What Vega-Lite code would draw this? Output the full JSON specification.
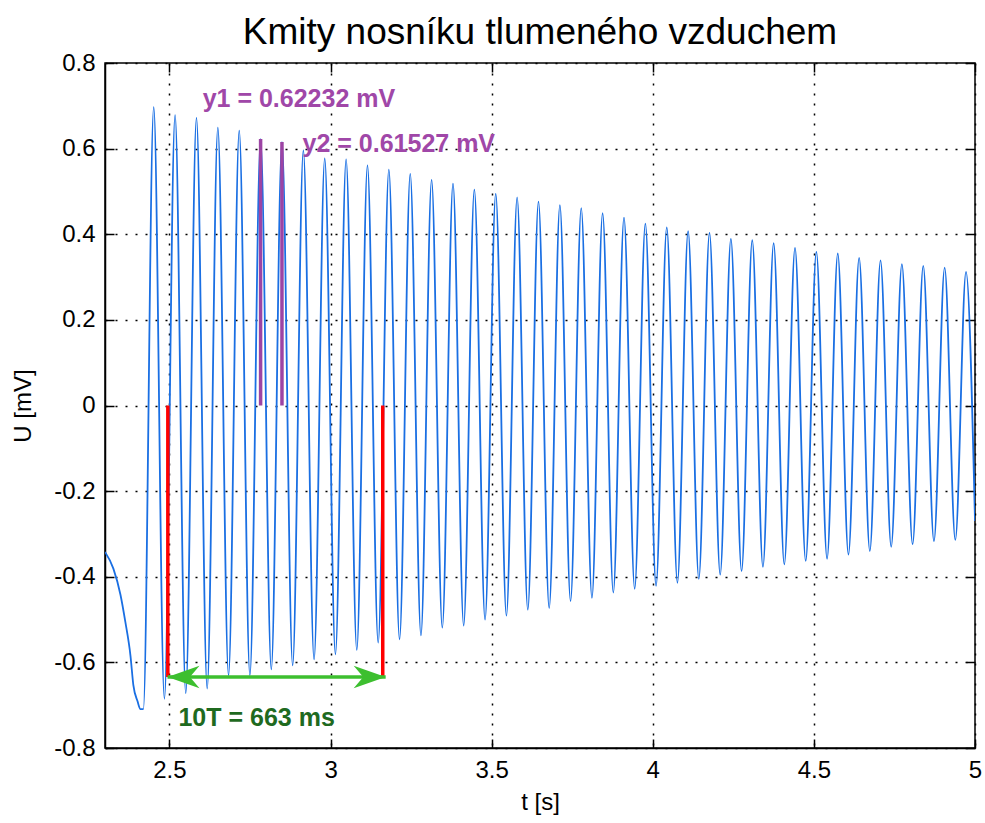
{
  "$schema": "https://vega.github.io/schema/vega-lite/v6.json",
  "width": 870,
  "height": 685,
  "autosize": {"type": "none"},
  "padding": {"left": 105, "top": 63, "right": 10, "bottom": 75},
  "background": "white",
  "title": {"text": "Kmity nosníku tlumeného vzduchem", "font": "Liberation Sans", "fontSize": 37, "fontWeight": "normal", "color": "black", "anchor": "middle", "offset": -1},
  "config": {
    "view": {"stroke": "black", "strokeWidth": 1.5},
    "axis": {
      "domainColor": "black", "domainWidth": 1.5,
      "tickColor": "black", "tickWidth": 1.5, "tickSize": -9,
      "labelColor": "black", "labelFont": "Liberation Sans", "labelFontSize": 24, "labelPadding": 19, "labelFlush": false,
      "titleColor": "black", "titleFont": "Liberation Sans", "titleFontSize": 24, "titleFontWeight": "normal",
      "gridColor": "black", "gridDash": [2, 8], "gridOpacity": 1, "gridWidth": 1.5
    }
  },
  "datasets": {
    "signal": [
      {"t": 2.300, "u": -0.342}, {"t": 2.326, "u": -0.381}, {"t": 2.348, "u": -0.442}, {"t": 2.363, "u": -0.505},
      {"t": 2.379, "u": -0.584}, {"t": 2.388, "u": -0.653}, {"t": 2.401, "u": -0.691}, {"t": 2.410, "u": -0.709},
      {"t": 2.419, "u": -0.709},
      {"t": 2.4512, "u": 0.697}, {"t": 2.4844, "u": -0.685},
      {"t": 2.5175, "u": 0.678}, {"t": 2.5507, "u": -0.672},
      {"t": 2.5839, "u": 0.672}, {"t": 2.6171, "u": -0.661},
      {"t": 2.6502, "u": 0.649}, {"t": 2.6834, "u": -0.630},
      {"t": 2.7166, "u": 0.642}, {"t": 2.7497, "u": -0.630},
      {"t": 2.7829, "u": 0.62232}, {"t": 2.8161, "u": -0.616},
      {"t": 2.8492, "u": 0.61527}, {"t": 2.8824, "u": -0.607},
      {"t": 2.9156, "u": 0.596}, {"t": 2.9488, "u": -0.593},
      {"t": 2.9819, "u": 0.577}, {"t": 3.0151, "u": -0.581},
      {"t": 3.0483, "u": 0.575}, {"t": 3.0814, "u": -0.571},
      {"t": 3.1146, "u": 0.561}, {"t": 3.1478, "u": -0.554},
      {"t": 3.1809, "u": 0.551}, {"t": 3.2141, "u": -0.546},
      {"t": 3.2473, "u": 0.541}, {"t": 3.2805, "u": -0.537},
      {"t": 3.3136, "u": 0.527}, {"t": 3.3468, "u": -0.519},
      {"t": 3.3800, "u": 0.518}, {"t": 3.4131, "u": -0.514},
      {"t": 3.4463, "u": 0.504}, {"t": 3.4795, "u": -0.500},
      {"t": 3.5126, "u": 0.495}, {"t": 3.5458, "u": -0.491},
      {"t": 3.5790, "u": 0.486}, {"t": 3.6121, "u": -0.477},
      {"t": 3.6453, "u": 0.476}, {"t": 3.6785, "u": -0.473},
      {"t": 3.7117, "u": 0.468}, {"t": 3.7448, "u": -0.457},
      {"t": 3.7780, "u": 0.461}, {"t": 3.8112, "u": -0.449},
      {"t": 3.8443, "u": 0.449}, {"t": 3.8775, "u": -0.437},
      {"t": 3.9107, "u": 0.439}, {"t": 3.9438, "u": -0.428},
      {"t": 3.9770, "u": 0.425}, {"t": 4.0102, "u": -0.421},
      {"t": 4.0434, "u": 0.416}, {"t": 4.0765, "u": -0.414},
      {"t": 4.1097, "u": 0.407}, {"t": 4.1429, "u": -0.405},
      {"t": 4.1760, "u": 0.403}, {"t": 4.2092, "u": -0.395},
      {"t": 4.2424, "u": 0.389}, {"t": 4.2756, "u": -0.387},
      {"t": 4.3087, "u": 0.386}, {"t": 4.3419, "u": -0.377},
      {"t": 4.3751, "u": 0.379}, {"t": 4.4082, "u": -0.371},
      {"t": 4.4414, "u": 0.368}, {"t": 4.4746, "u": -0.363},
      {"t": 4.5077, "u": 0.359}, {"t": 4.5409, "u": -0.358},
      {"t": 4.5741, "u": 0.355}, {"t": 4.6072, "u": -0.348},
      {"t": 4.6404, "u": 0.345}, {"t": 4.6736, "u": -0.340},
      {"t": 4.7068, "u": 0.339}, {"t": 4.7399, "u": -0.330},
      {"t": 4.7731, "u": 0.330}, {"t": 4.8063, "u": -0.324},
      {"t": 4.8394, "u": 0.326}, {"t": 4.8726, "u": -0.317},
      {"t": 4.9058, "u": 0.322}, {"t": 4.9389, "u": -0.314},
      {"t": 4.9721, "u": 0.312}, {"t": 5.0, "u": -0.27}
    ],
    "peaks": [
      {"t": 2.7829, "u": 0.62232},
      {"t": 2.8492, "u": 0.61527}
    ],
    "period": [
      {"t": 2.495, "u": -0.634},
      {"t": 3.162, "u": -0.634}
    ],
    "arrow": [
      {"t1": 2.494, "t2": 3.171, "u": -0.634}
    ],
    "purpleText": [
      {"t": 2.603, "u": 0.716, "label": "y1 = 0.62232 mV"},
      {"t": 2.913, "u": 0.611, "label": "y2 = 0.61527 mV"}
    ],
    "greenText": [
      {"t": 2.528, "u": -0.731, "label": "10T = 663 ms"}
    ]
  },
  "resolve": {"axis": {"x": "independent", "y": "independent"}},
  "layer": [
    {
      "data": {"name": "signal"},
      "mark": {"type": "line", "interpolate": "monotone", "color": "#1a6fe3", "strokeWidth": 1.8, "clip": true},
      "encoding": {
        "x": {"field": "t", "type": "quantitative", "scale": {"domain": [2.3, 5], "nice": false, "zero": false},
              "axis": {"orient": "bottom", "title": "t [s]", "values": [2.5, 3, 3.5, 4, 4.5, 5], "labelExpr": "toString(datum.value)", "grid": true, "titlePadding": 8}},
        "y": {"field": "u", "type": "quantitative", "scale": {"domain": [-0.8, 0.8], "nice": false, "zero": false},
              "axis": {"orient": "left", "title": "U [mV]", "values": [-0.8, -0.6, -0.4, -0.2, 0, 0.2, 0.4, 0.6, 0.8], "labelExpr": "toString(datum.value)", "grid": true, "titlePadding": 18}}
      }
    },
    {
      "data": {"name": "peaks"},
      "mark": {"type": "rule", "color": "#9c44a4", "strokeWidth": 3.5},
      "encoding": {
        "x": {"field": "t", "type": "quantitative",
              "axis": {"orient": "top", "labels": false, "title": null, "grid": false, "values": [2.5, 3, 3.5, 4, 4.5, 5], "domain": false}},
        "y": {"field": "u", "type": "quantitative",
              "axis": {"orient": "right", "labels": false, "title": null, "grid": false, "values": [-0.8, -0.6, -0.4, -0.2, 0, 0.2, 0.4, 0.6, 0.8], "domain": false}},
        "y2": {"datum": 0}
      }
    },
    {
      "data": {"name": "period"},
      "mark": {"type": "rule", "color": "#ff0000", "strokeWidth": 3.5},
      "encoding": {
        "x": {"field": "t", "type": "quantitative", "axis": null},
        "y": {"field": "u", "type": "quantitative", "axis": null},
        "y2": {"datum": 0}
      }
    },
    {
      "data": {"name": "arrow"},
      "mark": {"type": "rule", "color": "#3dbf2f", "strokeWidth": 3.5},
      "encoding": {
        "x": {"field": "t1", "type": "quantitative", "axis": null},
        "x2": {"field": "t2"},
        "y": {"field": "u", "type": "quantitative", "axis": null}
      }
    },
    {
      "data": {"name": "arrow"},
      "mark": {"type": "point", "shape": "M0,0L2,-0.7L1.4,0L2,0.7Z", "filled": true, "size": 1024, "color": "#3dbf2f", "opacity": 1},
      "encoding": {
        "x": {"field": "t1", "type": "quantitative", "axis": null},
        "y": {"field": "u", "type": "quantitative", "axis": null}
      }
    },
    {
      "data": {"name": "arrow"},
      "mark": {"type": "point", "shape": "M0,0L-2,-0.7L-1.4,0L-2,0.7Z", "filled": true, "size": 1024, "color": "#3dbf2f", "opacity": 1},
      "encoding": {
        "x": {"field": "t2", "type": "quantitative", "axis": null},
        "y": {"field": "u", "type": "quantitative", "axis": null}
      }
    },
    {
      "data": {"name": "purpleText"},
      "mark": {"type": "text", "align": "left", "baseline": "middle", "font": "Liberation Sans", "fontSize": 25, "fontWeight": "bold", "color": "#a047a8"},
      "encoding": {
        "x": {"field": "t", "type": "quantitative", "axis": null},
        "y": {"field": "u", "type": "quantitative", "axis": null},
        "text": {"field": "label"}
      }
    },
    {
      "data": {"name": "greenText"},
      "mark": {"type": "text", "align": "left", "baseline": "middle", "font": "Liberation Sans", "fontSize": 25, "fontWeight": "bold", "color": "#1f6a1f"},
      "encoding": {
        "x": {"field": "t", "type": "quantitative", "axis": null},
        "y": {"field": "u", "type": "quantitative", "axis": null},
        "text": {"field": "label"}
      }
    }
  ]
}
